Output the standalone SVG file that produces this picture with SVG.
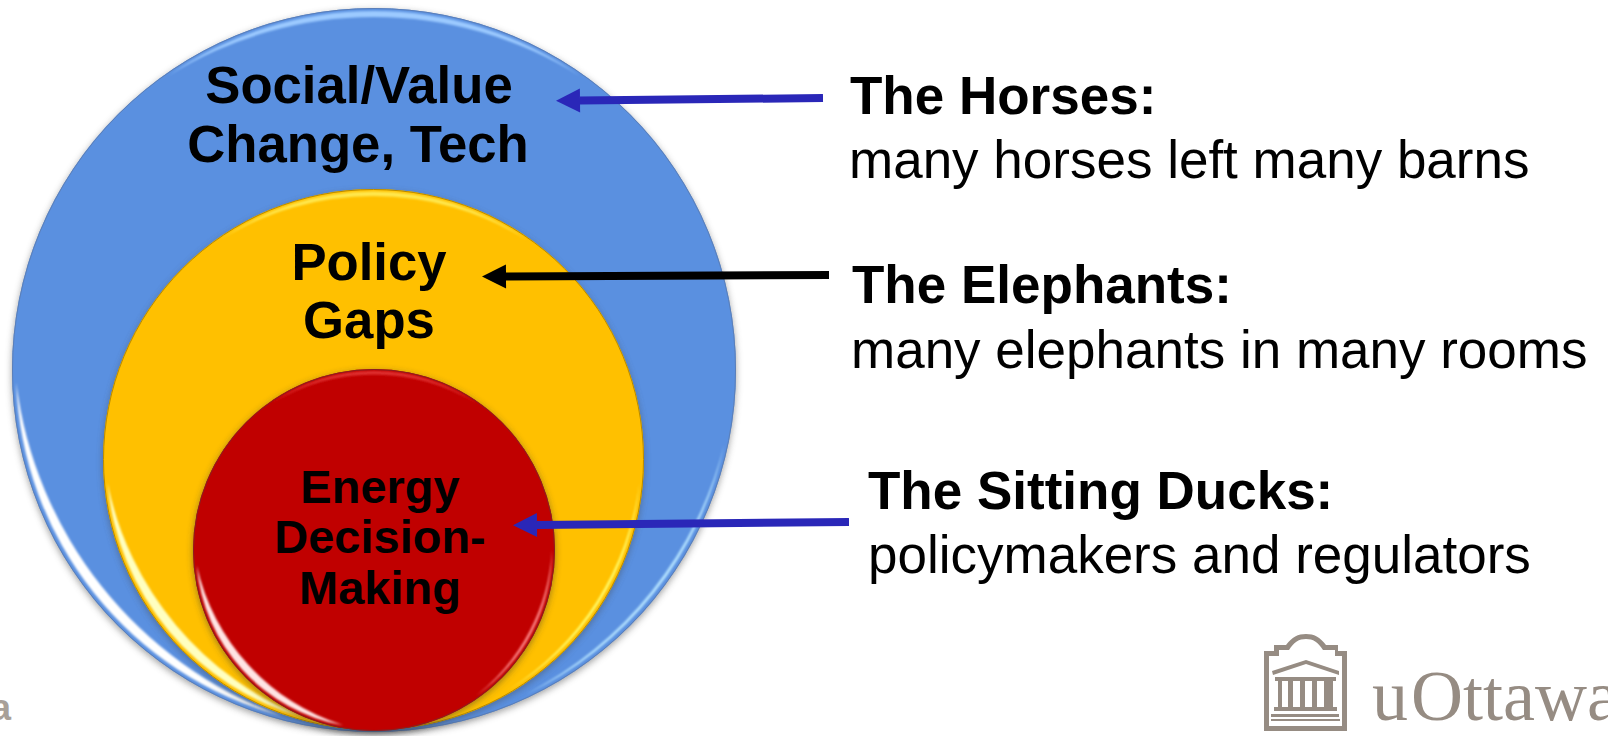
<svg xmlns="http://www.w3.org/2000/svg" width="1608" height="736" viewBox="0 0 1608 736">
<style>
text{font-family:"Liberation Sans",Arial,sans-serif;fill:#000}
.c{font-weight:700;text-anchor:middle;font-size:52.700px}
.e{font-size:47px}
.h{font-weight:700;font-size:53px}
.s{font-size:53px}
.logo{fill:#968c83}
.hl{fill-rule:evenodd}
</style>
<defs>
<filter id="sh" x="-5%" y="-5%" width="110%" height="112%"><feGaussianBlur stdDeviation="3.500"/></filter>
<filter id="b1" x="-10%" y="-10%" width="120%" height="120%"><feGaussianBlur stdDeviation="1"/></filter>
<marker id="aB" markerUnits="userSpaceOnUse" markerWidth="24" markerHeight="26" refX="0" refY="13" orient="auto" overflow="visible"><path d="M0 1L24 13L0 25Z" fill="#2a27b8"/></marker>
<marker id="aK" markerUnits="userSpaceOnUse" markerWidth="24" markerHeight="26" refX="0" refY="13" orient="auto" overflow="visible"><path d="M0 1L24 13L0 25Z" fill="#000"/></marker>
</defs>
<rect width="1608" height="736" fill="#fff"/>
<g id="outer-circle">
<circle cx="374" cy="372.500" r="362" fill="#555" opacity=".55" filter="url(#sh)"/>
<circle cx="374" cy="370" r="362" fill="#5a90e0"/>
<g filter="url(#b1)">
<path fill="#fff" d="M16.200 382.500A358 358 0 0 0 281.300 715.800A408 408 0 0 1 16.200 382.500Z"/>
<path fill="#b4e2ff" d="M724.200 444.400A358 358 0 0 1 525.300 694.500A386 386 0 0 0 724.200 444.400Z"/>
<path fill="#9ccaff" d="M168.100 76A359 359 0 0 1 579.900 76A389 389 0 0 0 168.100 76Z"/>
</g>
<circle cx="374" cy="370" r="361.500" fill="none" stroke="#5b7fb8" stroke-width="1"/>
<text class="c" x="359" y="103">Social/Value</text>
<text class="c" x="358" y="162">Change, Tech</text>
</g>
<g id="middle-circle">
<circle cx="373.500" cy="462" r="270.500" fill="#444" opacity=".45" filter="url(#sh)"/>
<circle cx="373.500" cy="459.500" r="270.500" fill="#ffc000"/>
<g filter="url(#b1)">
<path fill="#ffffc0" d="M107.500 482.800A267 267 0 0 0 304.400 717.400A320 320 0 0 1 107.500 482.800Z"/>
<path fill="#ffff70" d="M639.500 482.800A267 267 0 0 1 507 690.700A288 288 0 0 0 639.500 482.800Z"/>
<path fill="#ffe850" d="M219.800 240A268 268 0 0 1 527.200 240A290.500 290.500 0 0 0 219.800 240Z"/>
</g>
<circle cx="373.500" cy="459.500" r="270" fill="none" stroke="#b88a00" stroke-width="1"/>
<text class="c" x="369" y="280">Policy</text>
<text class="c" x="369" y="338">Gaps</text>
</g>
<g id="inner-circle">
<circle cx="374" cy="552" r="181" fill="#333" opacity=".5" filter="url(#sh)"/>
<circle cx="374" cy="550" r="181" fill="#c00000"/>
<g filter="url(#b1)">
<path fill="#ffe4e4" d="M196.700 565.500A178 178 0 0 0 343.100 725.300A217 217 0 0 1 196.700 565.500Z"/>
<path fill="#ff8a8a" d="M552 550A178 178 0 0 1 476.100 695.800A200.800 200.800 0 0 0 552 550Z"/>
<path fill="#e03030" d="M271.300 403.400A179 179 0 0 1 476.700 403.400A196.300 196.300 0 0 0 271.300 403.400Z"/>
</g>
<circle cx="374" cy="550" r="180.500" fill="none" stroke="#8a2020" stroke-width="1"/>
<text class="c e" x="380" y="503">Energy</text>
<text class="c e" x="380" y="553">Decision-</text>
<text class="c e" x="380" y="604">Making</text>
</g>
<g id="connectors" fill="none" stroke-width="8">
<path d="M823 98L580 100.500" stroke="#2a27b8" marker-end="url(#aB)"/>
<path d="M829 275L506 276.500" stroke="#000" marker-end="url(#aK)"/>
<path d="M849 522L537 525" stroke="#2a27b8" marker-end="url(#aB)"/>
</g>
<g id="horses"><text class="h" x="850" y="114">The Horses:</text><text class="s" x="849" y="177.500">many horses left many barns</text></g>
<g id="elephants"><text class="h" x="852" y="303">The Elephants:</text><text class="s" x="851" y="368">many elephants in many rooms</text></g>
<g id="ducks"><text class="h" x="868" y="509">The Sitting Ducks:</text><text class="s" x="868" y="573">policymakers and regulators</text></g>
<g id="left-logo"><text x="-9" y="720" style="font-weight:700;font-size:36px;fill:#a8a098">a</text></g>
<g id="uottawa-logo">
<path class="logo hl" d="M1264 651H1274V645H1286C1292 637 1298 634 1306 634S1320 637 1326 645H1338V651H1347V731H1264ZM1269 656V726H1342V656H1335V650H1323C1318 642 1313 639 1306 639S1294 642 1289 650H1279V656Z"/>
<path class="logo" d="M1272 671L1306 660L1339 671V675L1306 664L1273 675ZM1275 677H1336V681H1333V707H1337V711H1274V707H1278V681H1275ZM1282 681V707H1288V681ZM1293 681V707H1300V681ZM1305 681V707H1312V681ZM1317 681V707H1324V681ZM1271 714H1339V717H1271ZM1271 719H1340V721H1271Z"/>
<text x="1372" y="720" style="font-family:'Liberation Serif',serif;font-size:72px;fill:#968c83">u<tspan dx="3">Ottawa</tspan></text>
</g>
</svg>
